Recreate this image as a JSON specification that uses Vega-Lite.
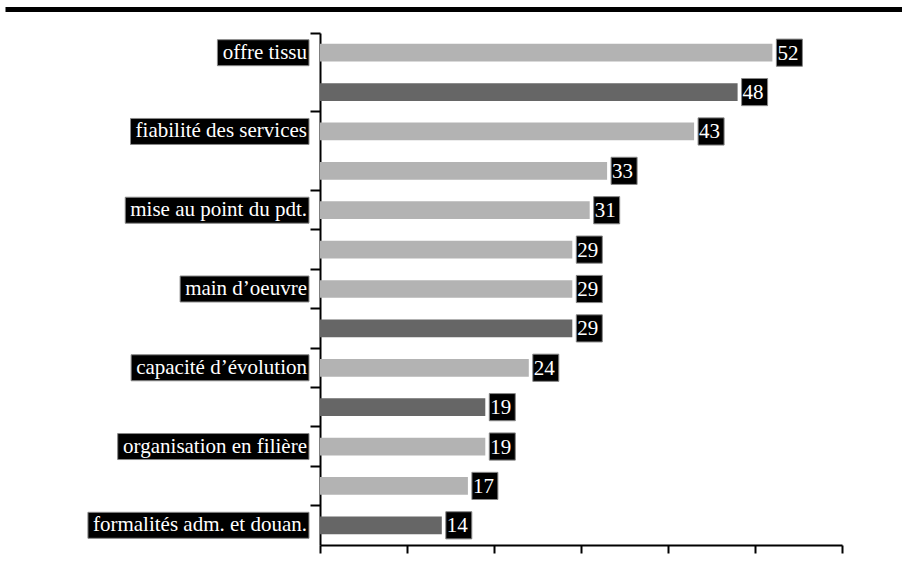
{
  "$schema": "https://vega.github.io/schema/vega-lite/v6.json",
  "width": 522,
  "height": 512,
  "autosize": {"type": "none"},
  "padding": {"left": 320, "top": 33, "right": 60, "bottom": 42},
  "background": "white",
  "config": {"view": {"stroke": null}, "font": "DejaVu Serif", "axis": {"grid": false}},
  "data": {
    "values": [
      {"id": 1, "label": "offre tissu", "value": 52, "type": "a"},
      {"id": 2, "label": "", "value": 48, "type": "b"},
      {"id": 3, "label": "fiabilité des services", "value": 43, "type": "a"},
      {"id": 4, "label": "", "value": 33, "type": "a"},
      {"id": 5, "label": "mise au point du pdt.", "value": 31, "type": "a"},
      {"id": 6, "label": "", "value": 29, "type": "a"},
      {"id": 7, "label": "main d’oeuvre", "value": 29, "type": "a"},
      {"id": 8, "label": "", "value": 29, "type": "b"},
      {"id": 9, "label": "capacité d’évolution", "value": 24, "type": "a"},
      {"id": 10, "label": "", "value": 19, "type": "b"},
      {"id": 11, "label": "organisation en filière", "value": 19, "type": "a"},
      {"id": 12, "label": "", "value": 17, "type": "a"},
      {"id": 13, "label": "formalités adm. et douan.", "value": 14, "type": "b"}
    ]
  },
  "layer": [
    {
      "encoding": {
        "y": {
          "field": "id",
          "type": "ordinal",
          "sort": "ascending",
          "scale": {"paddingInner": 0, "paddingOuter": 0},
          "axis": {
            "title": null,
            "labels": false,
            "values": [1, 3, 5, 6, 7, 8, 9, 10, 11, 12, 13],
            "bandPosition": 0,
            "tickSize": 10,
            "tickWidth": 2,
            "tickColor": "black",
            "domainColor": "black",
            "domainWidth": 2
          }
        }
      },
      "layer": [
        {
          "mark": {"type": "bar", "height": {"band": 0.45}},
          "encoding": {
            "x": {
              "field": "value",
              "type": "quantitative",
              "scale": {"domain": [0, 60], "nice": false},
              "axis": {
                "title": null,
                "labels": false,
                "values": [0, 10, 20, 30, 40, 50, 60],
                "tickSize": 8,
                "tickWidth": 2,
                "tickColor": "black",
                "domainColor": "black",
                "domainWidth": 2
              }
            },
            "color": {
              "field": "type",
              "type": "nominal",
              "scale": {"domain": ["a", "b"], "range": ["#b3b3b3", "#666666"]},
              "legend": null
            }
          }
        },
        {
          "mark": {"type": "bar", "height": {"band": 0.69}, "color": "black", "stroke": "#888888", "strokeWidth": 1, "xOffset": 4, "x2Offset": 30},
          "encoding": {
            "x": {"field": "value", "type": "quantitative"},
            "x2": {"field": "value"}
          }
        },
        {
          "mark": {"type": "text", "font": "Liberation Serif, DejaVu Serif, serif", "align": "left", "baseline": "middle", "dx": 5, "dy": 1, "color": "white", "fontSize": 21},
          "encoding": {
            "x": {"field": "value", "type": "quantitative"},
            "text": {"field": "value", "type": "quantitative"}
          }
        },
        {
          "transform": [
            {"filter": "datum.label != ''"},
            {"calculate": "10.5*length(datum.label) - 5.25*length(replace(datum.label, /[^ .]/g, '')) - 4.66*length(replace(datum.label, /[^ilt]/g, '')) - 3.5*length(replace(datum.label, /[^fr’]/g, '')) - 1.18*length(replace(datum.label, /[^aceéè]/g, '')) - 2.33*length(replace(datum.label, /[^s]/g, '')) + 5.84*length(replace(datum.label, /[^m]/g, ''))", "as": "tw"},
            {"calculate": "-(datum.tw + 18) / 8.7", "as": "boxLeft"}
          ],
          "mark": {"type": "bar", "height": {"band": 0.66}, "color": "black", "stroke": "#888888", "strokeWidth": 1, "x2Offset": -11},
          "encoding": {
            "x": {"field": "boxLeft", "type": "quantitative"},
            "x2": {"datum": 0}
          }
        },
        {
          "transform": [{"filter": "datum.label != ''"}],
          "mark": {"type": "text", "font": "Liberation Serif, DejaVu Serif, serif", "align": "right", "baseline": "middle", "dx": -13, "dy": 0, "color": "white", "fontSize": 21},
          "encoding": {
            "x": {"datum": 0, "type": "quantitative"},
            "text": {"field": "label", "type": "nominal"}
          }
        }
      ]
    },
    {
      "mark": {"type": "point", "opacity": 0},
      "encoding": {
        "x": {
          "datum": 0,
          "type": "quantitative",
          "scale": {"domain": [0, 1], "range": [-315, 582]},
          "axis": {
            "orient": "top",
            "offset": 24,
            "title": null,
            "labels": false,
            "ticks": false,
            "domainColor": "black",
            "domainWidth": 5
          }
        }
      }
    }
  ],
  "resolve": {"scale": {"x": "independent"}}
}
